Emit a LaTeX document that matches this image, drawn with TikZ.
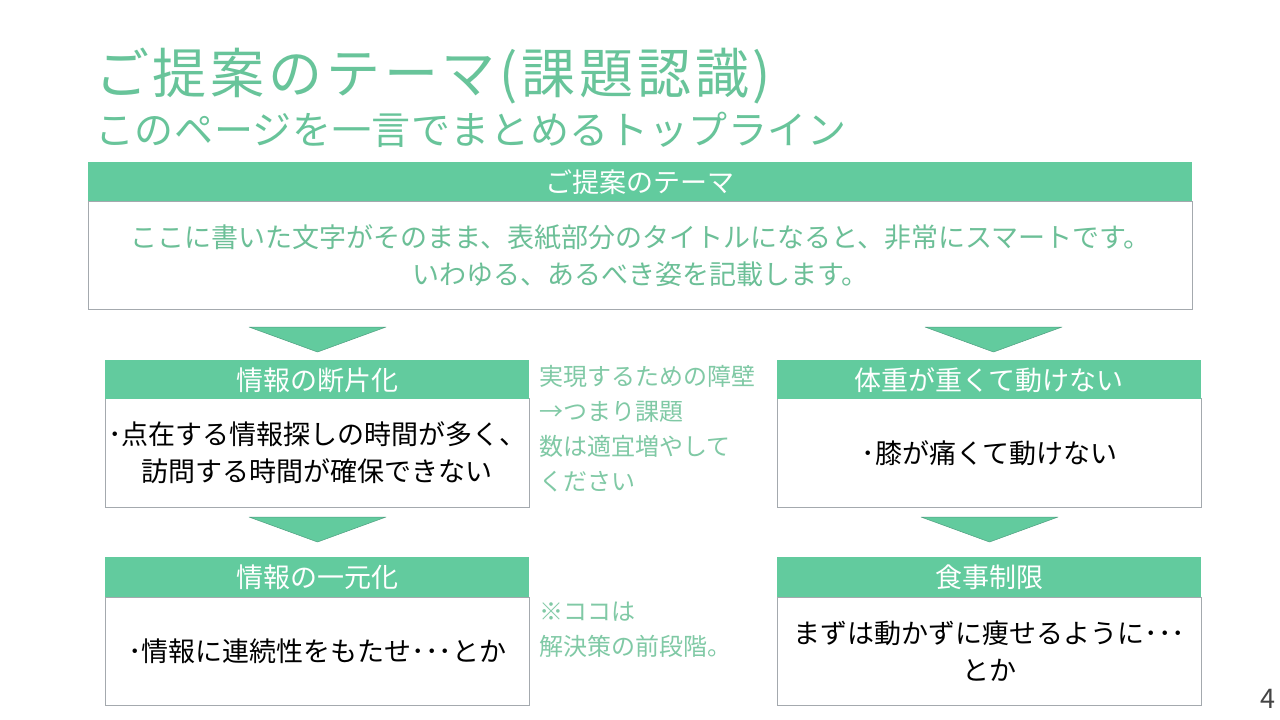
\documentclass[tikz,border=0pt]{standalone}
\usepackage{fontspec}
\setmainfont{Noto Sans CJK JP}
\usetikzlibrary{calc}
\definecolor{hdrgreen}{HTML}{62CB9E}
\definecolor{tridark}{HTML}{4E9F80}
\definecolor{titlegreen}{HTML}{68C49A}
\definecolor{bodygreen}{HTML}{6CBF97}
\definecolor{notegreen}{HTML}{80C9A5}
\definecolor{bordergray}{HTML}{A4A9AE}
\definecolor{pagegray}{HTML}{444444}
\tikzset{
  hdr/.style={fill=hdrgreen, draw=none, text=white, font=\fontsize{27}{32}\selectfont,
    minimum height=39pt, inner sep=0pt, anchor=north west, text height=23.8pt, text depth=3.2pt},
  bodybox/.style={draw=bordergray, line width=0.8pt, fill=white, inner sep=0pt, anchor=north west,
    align=center, font=\fontsize{27}{37}\selectfont},
  tri/.style={fill=hdrgreen, draw=tridark, line width=0.5pt, line join=round},
  note/.style={text=notegreen, font=\fontsize{24}{35}\selectfont, align=left, inner sep=0pt, anchor=north west}
}
\begin{document}
\begin{tikzpicture}[x=1pt,y=-1pt]
\fill[white] (0,0) rectangle (1280,720);
\useasboundingbox (0,0) rectangle (1280,720);

% titles
\node[anchor=west, inner sep=0pt, text=titlegreen,
  font=\fontsize{54}{60}\selectfont\addfontfeatures{LetterSpace=7},
  text height=47.5pt, text depth=6.5pt] (title) at (95,73) {ご提案のテーマ(課題認識)};
\node[anchor=west, inner sep=0pt, text=titlegreen,
  font=\fontsize{39}{44}\selectfont\addfontfeatures{LetterSpace=1.6},
  text height=34.3pt, text depth=4.7pt] (subtitle) at (95,130) {このページを一言でまとめるトップライン};

% top box
\node[bodybox, minimum width=1104pt, minimum height=108pt, text=bodygreen] (b0) at (88,201)
  {ここに書いた文字がそのまま、表紙部分のタイトルになると、非常にスマートです。\\いわゆる、あるべき姿を記載します。};
\node[hdr, minimum width=1104pt] (h0) at (88,162) {ご提案のテーマ};

% left column
\node[bodybox, minimum width=424pt, minimum height=109pt] (b1) at (105,398)
  {･点在する情報探しの時間が多く、\\訪問する時間が確保できない};
\node[hdr, minimum width=424pt] (h1) at (105,360) {情報の断片化};
\node[bodybox, minimum width=424pt, minimum height=108pt] (b2) at (105,597)
  {･情報に連続性をもたせ･･･とか};
\node[hdr, minimum width=424pt, minimum height=40pt] (h2) at (105,557) {情報の一元化};

% right column
\node[bodybox, minimum width=424pt, minimum height=109pt] (b3) at (777,398)
  {･膝が痛くて動けない};
\node[hdr, minimum width=424pt] (h3) at (777,360) {体重が重くて動けない};
\node[bodybox, minimum width=424pt, minimum height=108pt] (b4) at (777,597)
  {まずは動かずに痩せるように･･･\\とか};
\node[hdr, minimum width=424pt, minimum height=40pt] (h4) at (777,557) {食事制限};

% arrows (triangles)
\draw[tri] (249,327) -- (386,327) -- (317.5,352) -- cycle;
\draw[tri] (925,327) -- (1062,327) -- (993.5,352) -- cycle;
\draw[tri] (249,517) -- (386,517) -- (317.5,542) -- cycle;
\draw[tri] (921,517) -- (1058,517) -- (989.5,542) -- cycle;

% notes
\node[note] (n1) at (539,365) {実現するための障壁\\→つまり課題\\数は適宜増やして\\ください};
\node[note] (n2) at (539,602) {※ココは\\解決策の前段階。};

% page number
\node[anchor=east, inner sep=0pt, text=pagegray, font=\fontsize{27}{30}\selectfont,
  text height=20pt, text depth=0pt] (pg) at (1276,698) {4};
\end{tikzpicture}
\end{document}
